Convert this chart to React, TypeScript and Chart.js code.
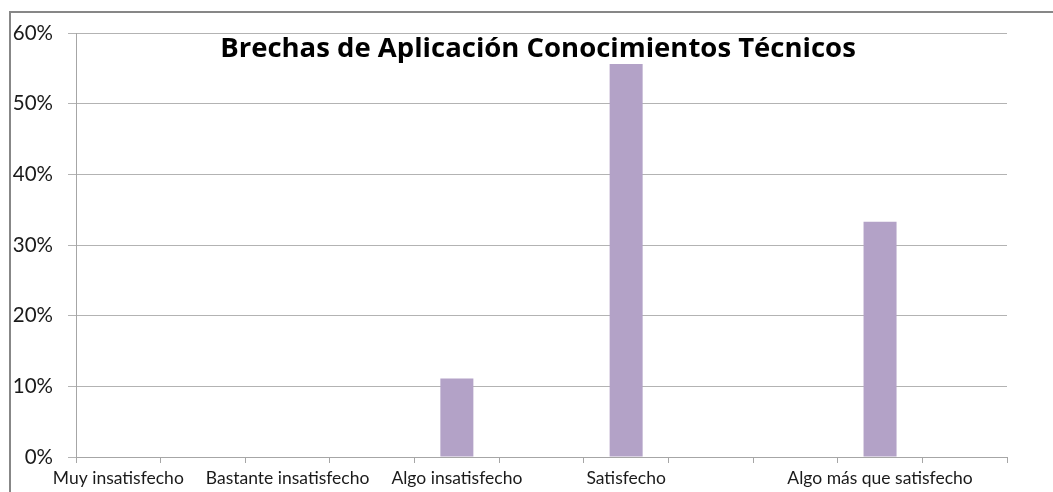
import React, { useEffect, useRef } from "react";
import { Chart, registerables } from "chart.js";

Chart.register(...registerables);

const categories: string[] = [
  "Muy insatisfecho",
  "",
  "Bastante insatisfecho",
  "",
  "Algo insatisfecho",
  "",
  "Satisfecho",
  "",
  "",
  "Algo más que satisfecho",
  "",
];
const values: (number | null)[] = [0, null, 0, null, 0.111, null, 0.556, null, null, 0.333, null];
const yTicks: number[] = [0, 0.1, 0.2, 0.3, 0.4, 0.5, 0.6];
const chartTitle = "Brechas de Aplicación Conocimientos Técnicos";

const FONT = "Lato, 'Open Sans', sans-serif";
const TITLE_FONT = "'Open Sans', Lato, sans-serif";

const titlePlugin = {
  id: "innerTitle",
  afterDraw(chart: any) {
    const ctx = chart.ctx;
    ctx.save();
    ctx.font = `bold 27.5px ${TITLE_FONT}`;
    ctx.fillStyle = "#000";
    ctx.textAlign = "center";
    ctx.textBaseline = "alphabetic";
    ctx.fillText(chartTitle, 538, 57);
    ctx.restore();
  },
};

export default function App() {
  const ref = useRef<HTMLCanvasElement | null>(null);
  useEffect(() => {
    if (!ref.current) return;
    const chart = new Chart(ref.current, {
      type: "bar",
      data: {
        labels: categories,
        datasets: [
          {
            data: values as any,
            backgroundColor: "#B3A2C7",
            borderWidth: 0,
            barPercentage: 0.39,
            categoryPercentage: 1,
          },
        ],
      },
      options: {
        animation: false,
        responsive: false,
        maintainAspectRatio: false,
        layout: { padding: { top: 33, right: 46, left: 0, bottom: 0 } },
        plugins: { legend: { display: false }, tooltip: { enabled: false }, title: { display: false } },
        scales: {
          x: {
            offset: true,
            grid: {
              offset: true,
              drawOnChartArea: false,
              drawTicks: true,
              tickLength: 6,
              color: "#a6a6a6",
            },
            border: { color: "#a6a6a6", width: 1 },
            ticks: {
              autoSkip: false,
              maxRotation: 0,
              minRotation: 0,
              padding: 5,
              color: "#1a1a1a",
              font: { family: FONT, size: 17.5 },
            },
            afterFit(scale: any) {
              scale.height = 35;
            },
          },
          y: {
            min: 0,
            max: 0.6,
            afterBuildTicks(scale: any) {
              scale.ticks = yTicks.map((v) => ({ value: v }));
            },
            grid: { color: "#b3b3b3", tickLength: 8, drawTicks: true },
            border: { color: "#a6a6a6", width: 1 },
            ticks: {
              padding: 15,
              color: "#1a1a1a",
              font: { family: FONT, size: 20.5 },
              callback: (v: any) => `${Math.round(Number(v) * 100)}%`,
            },
            afterFit(scale: any) {
              scale.width = 76;
            },
          },
        },
      },
      plugins: [titlePlugin],
    });
    return () => chart.destroy();
  }, []);
  return (
    <div style={{ position: "absolute", left: 0, top: 0, width: 1053, height: 492, background: "#fff", overflow: "hidden" }}>
      <div
        style={{
          position: "absolute",
          left: 9,
          top: 11,
          width: 1100,
          height: 600,
          borderLeft: "2px solid #878787",
          borderTop: "2px solid #878787",
          boxSizing: "border-box",
        }}
      />
      <canvas ref={ref} width={1053} height={492} style={{ position: "absolute", left: 0, top: 0, width: 1053, height: 492 }} />
    </div>
  );
}
